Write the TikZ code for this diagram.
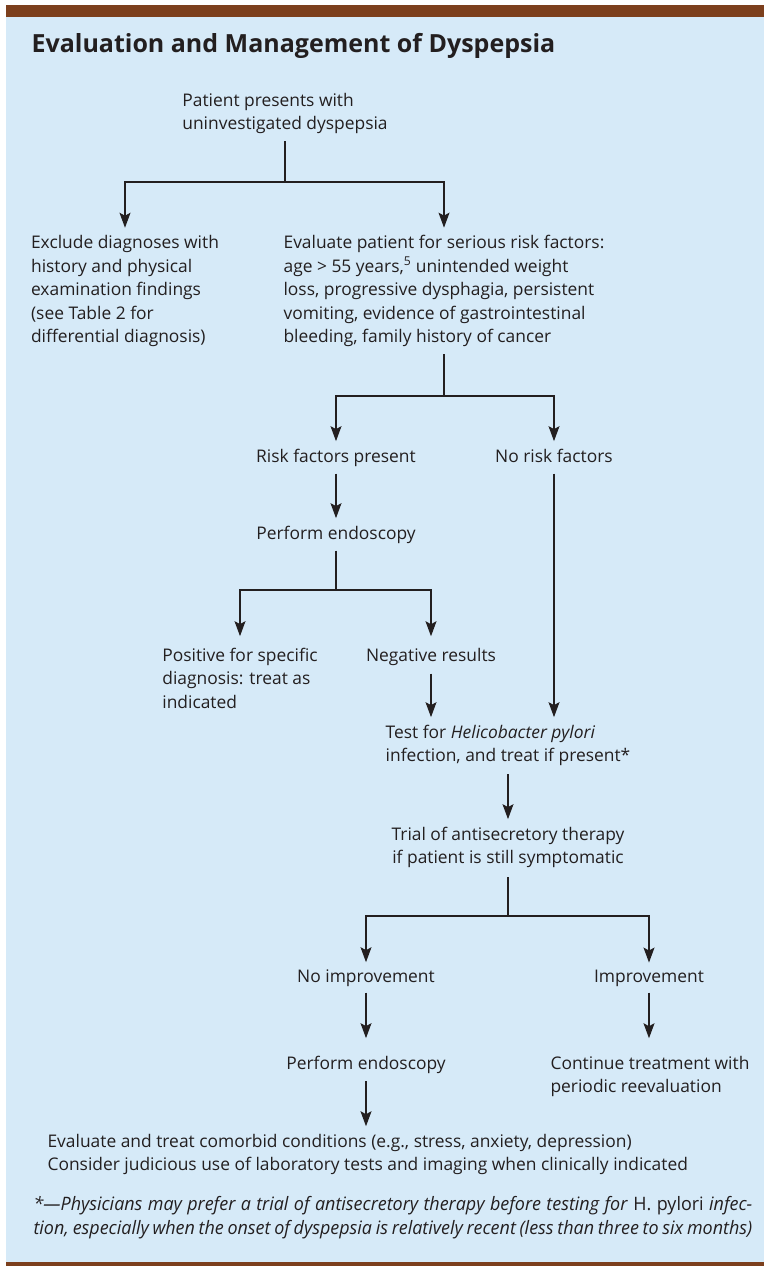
\documentclass[tikz,border=0pt]{standalone}
\usepackage{fontspec}
\setmainfont{Open Sans}
\usepackage{graphicx}
\usetikzlibrary{arrows.meta}
\definecolor{panel}{RGB}{214,234,248}
\definecolor{bar}{RGB}{124,63,29}
\definecolor{ink}{RGB}{35,31,32}
\begin{document}
\begin{tikzpicture}[x=1pt,y=-1pt,>={Stealth[length=15pt,width=11pt,inset=3pt]},
	line width=1.1pt, draw=ink, text=ink,
	txt/.style={inner sep=0pt, font=\fontsize{17.4}{23.5}\selectfont, anchor=base},
	lft/.style={txt, align=left},
	ctr/.style={txt, align=center},
	note/.style={txt, anchor=base west, font=\fontsize{18.5}{22}\selectfont\itshape},
	flow/.style={->, shorten <=7pt, shorten >=7pt},
	split/.style={shorten <=7pt}]
	\def\W{764} \def\H{1266} % page in px
	\useasboundingbox (0,0) rectangle (\W,\H);
	\fill[bar] (6,5) rectangle (\W,16.5);
	\fill[panel] (6,16.5) rectangle (\W,1262);
	\fill[bar] (6,1262) rectangle (\W,\H);
	\node[anchor=base west, inner sep=0pt, font=\fontsize{25}{30}\selectfont\bfseries] (title) at (31,52) {Evaluation and Management of Dyspepsia};
	% boxes (base = last line)
	\node[lft] (patient) at (285,129.5) {Patient presents with\\uninvestigated dyspepsia};
	\node[lft] (exclude) at (125,342.5) {Exclude diagnoses with\\history and physical\\examination findings\\(see Table 2 for\\differential diagnosis)};
	\node[lft] (evalrisk) at (444,342.5) {Evaluate patient for serious risk factors:\\age > 55 years,\textsuperscript{5} unintended weight\\loss, progressive dysphagia, persistent\\vomiting, evidence of gastrointestinal\\bleeding, family history of cancer};
	\node[txt] (riskp) at (336,462) {Risk factors present};
	\node[txt] (norisk) at (554,462) {No risk factors};
	\node[txt] (endoa) at (336,539) {Perform endoscopy};
	\node[lft] (positive) at (240,708) {Positive for specific\\diagnosis: treat as\\indicated};
	\node[txt] (negative) at (431,661) {Negative results};
	\node[lft] (hpylori) at (508,761.5) {Test for \textit{Helicobacter pylori}\\infection, and treat if present*};
	\node[ctr] (trial) at (508,863.5) {Trial of antisecretory therapy\\if patient is still symptomatic};
	\node[txt] (noimp) at (366,982) {No improvement};
	\node[txt] (imp) at (649,982) {Improvement};
	\node[txt] (endob) at (366,1069) {Perform endoscopy};
	\node[lft] (cont) at (650,1092.5) {Continue treatment with\\periodic reevaluation};
	\node[txt, anchor=base west] (comorbid) at (47,1147) {Evaluate and treat comorbid conditions (e.g., stress, anxiety, depression)};
	\node[txt, anchor=base west] (consider) at (47,1170) {Consider judicious use of laboratory tests and imaging when clinically indicated};
	\node[note] (notea) at (33,1210) {\scalebox{0.97}[1]{\makebox[741pt][s]{*---Physicians may prefer a trial of antisecretory therapy before testing for \textup{H. pylori} infec-}}};
	\node[note] (noteb) at (33,1234) {\scalebox{0.97}[1]{\makebox[741pt][s]{tion, especially when the onset of dyspepsia is relatively recent (less than three to six months)}}};
	% junctions
	\coordinate (ja) at (285,182);
	\coordinate (jb) at (444,396);
	\coordinate (jc) at (336,590);
	\coordinate (jd) at (508,916);
	% connectors
	\draw[split] (patient) -- (ja);
	\draw[->, shorten >=7pt] (ja) -| (exclude);
	\draw[->, shorten >=7pt] (ja) -| (evalrisk);
	\draw[split] (evalrisk) -- (jb);
	\draw[->, shorten >=7pt] (jb) -| (riskp);
	\draw[->, shorten >=7pt] (jb) -| (norisk);
	\draw[flow] (riskp) -- (endoa);
	\draw[split] (endoa) -- (jc);
	\draw[->, shorten >=11pt] (jc) -| (positive);
	\draw[->, shorten >=11pt] (jc) -| (negative);
	\draw[flow, shorten <=8pt] (negative) -- (negative |- hpylori.north);
	\draw[flow, shorten <=11pt] (norisk) -- (norisk |- hpylori.north);
	\draw[flow, shorten <=8pt] (hpylori) -- (trial);
	\draw[split, shorten <=9pt] (trial) -- (jd);
	\draw[->, shorten >=6.5pt] (jd) -| (noimp);
	\draw[->, shorten >=6.5pt] (jd) -| (imp);
	\draw[flow, shorten <=6pt, shorten >=17pt] (noimp) -- (endob);
	\draw[flow, shorten <=6pt, shorten >=17pt] (imp) -- (imp |- cont.north);
	\draw[flow, shorten <=7.5pt] (endob) -- (endob |- comorbid.north);
\end{tikzpicture}
\end{document}
